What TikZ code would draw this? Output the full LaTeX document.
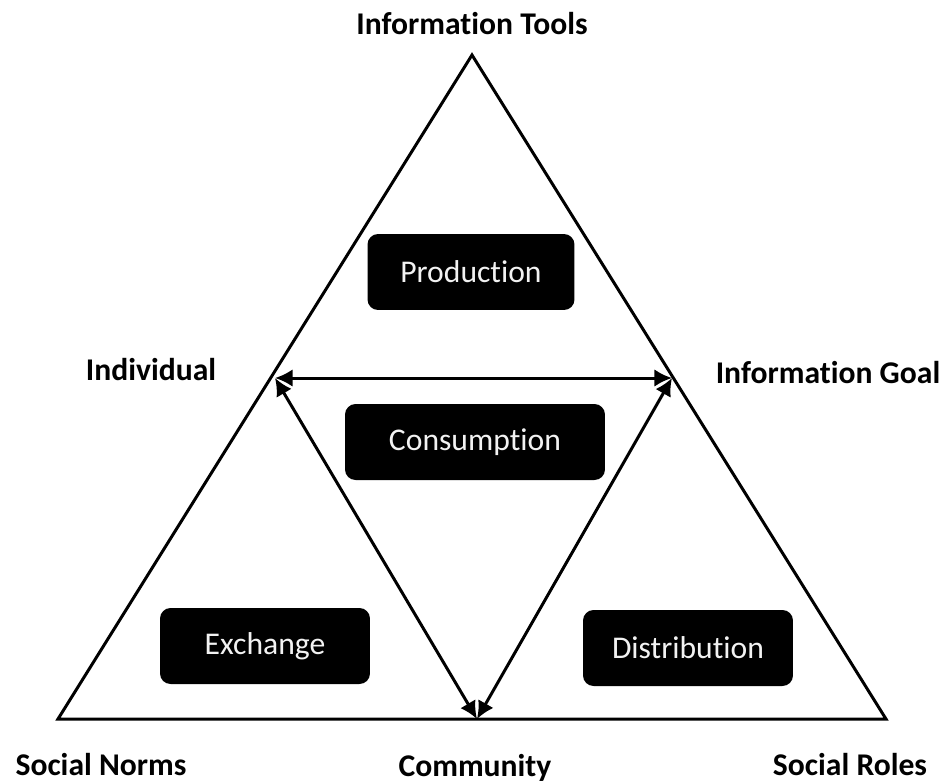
\documentclass[tikz,border=0pt]{standalone}
\usepackage{fontspec}
\setmainfont{Carlito}[Ligatures=NoCommon]
\usetikzlibrary{arrows.meta}
\begin{document}
\begin{tikzpicture}[
  x=0.02cm, y=-0.02cm,
  box/.style={fill=black, rounded corners=6pt, inner sep=0pt,
              minimum height=1.52cm, text=white!90!gray,
              font=\fontsize{18}{21}\selectfont},
  lab/.style={font=\fontsize{18}{21}\selectfont\bfseries},
  edge/.style={line width=1.7pt, line join=miter},
  arr/.style={<->, line width=1.7pt, >={Latex[length=10pt,width=10pt]}}
]
  \useasboundingbox (0,0) rectangle (941,782);

  % outer triangle
  \coordinate (top) at (472,55);
  \coordinate (bl)  at (58,719);
  \coordinate (br)  at (886,719);
  \draw[edge] (top) -- (br) -- (bl) -- cycle;

  % inner triangle
  \coordinate (il) at (275,378);
  \coordinate (ir) at (672,378);
  \coordinate (ib) at (477,719);
  \draw[arr] (il) -- (ir);
  \draw[arr] (il) -- (ib);
  \draw[arr] (ir) -- (ib);

  % activities
  \node[box, minimum width=4.14cm] (prod) at (471,272) {Production};
  \node[box, minimum width=5.2cm]  (cons) at (475,442) {Consumption};
  \node[box, minimum width=4.2cm]  (exch) at (265,646) {Exchange};
  \node[box, minimum width=4.2cm]  (dist) at (688,648) {Distribution};

  % corner labels
  \node[lab] (tools) at (472,24)  {Information Tools};
  \node[lab] (indiv) at (151,370) {Individual};
  \node[lab] (goal)  at (828,373) {Information Goal};
  \node[lab] (norms) at (101,765) {Social Norms};
  \node[lab] (comm)  at (475,768) {Community};
  \node[lab] (roles) at (850,765) {Social Roles};
\end{tikzpicture}
\end{document}
